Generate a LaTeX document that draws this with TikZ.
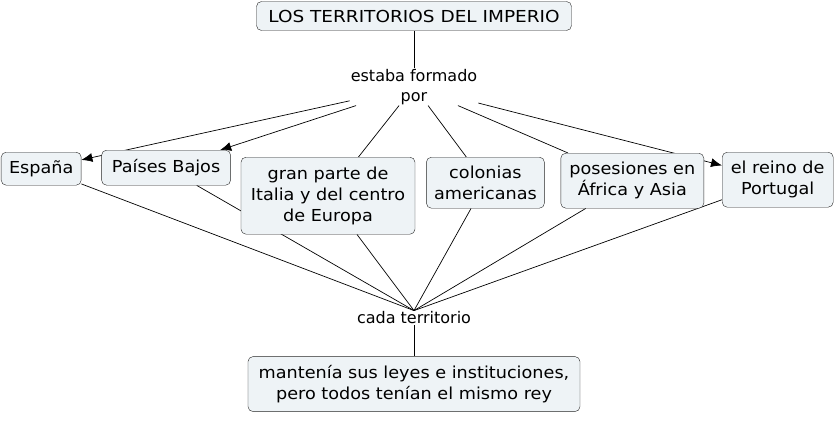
\documentclass[tikz,border=0pt]{standalone}
\usepackage{fontspec}
\setmainfont{DejaVu Sans}
\newfontfamily\letracaja{DejaVu Sans}[FakeStretch=1.07]
\newfontfamily\letratitulo{DejaVu Sans}[FakeStretch=1.12]
\usetikzlibrary{positioning,arrows.meta,backgrounds}
\definecolor{fondocaja}{RGB}{238,243,246}
\tikzset{
  caja/.style     = {draw=black!85, fill=fondocaja, rounded corners=5pt, align=center,
                     inner sep=2pt, font=\letracaja\fontsize{16.5}{21}\selectfont},
  enlace/.style   = {font=\fontsize{16}{20}\selectfont, inner sep=1pt, align=center},
  linea/.style    = {draw=black, line width=0.7pt},
  flecha/.style   = {linea, -{Latex[length=11pt,width=9pt]}}
}
\begin{document}
\begin{tikzpicture}[x=1pt, y=1pt]
    \useasboundingbox (-414,16) rectangle (420,-404);

    \node[caja, minimum width=315pt, minimum height=29pt,
        font=\letratitulo\fontsize{16.5}{21}\selectfont] (titulo)
        {LOS TERRITORIOS DEL IMPERIO};
    \node[enlace, below=37pt of titulo] (formado) {estaba formado\\ por};

    \node[caja, minimum width=80pt, minimum height=33pt, anchor=north west]
        (espana) at (-413,-136) {España};
    \node[caja, minimum width=129pt, minimum height=35pt, right=20pt of espana,
        yshift=1pt] (paises) {Países Bajos};
    \node[caja, minimum width=174pt, minimum height=77pt, right=10pt of paises,
        yshift=-28pt] (gran) {gran parte de\\ Italia y del centro\\ de Europa};
    \node[caja, minimum width=118pt, minimum height=51pt, right=11pt of gran,
        yshift=13pt] (colonias) {colonias\\ americanas};
    \node[caja, minimum width=143pt, minimum height=55pt, right=16pt of colonias,
        yshift=2pt] (posesiones) {posesiones en\\ África y Asia};
    \node[caja, minimum width=111pt, minimum height=55pt, right=18pt of posesiones,
        yshift=1pt] (reino) {el reino de\\ Portugal};

    \node[enlace, below=205pt of formado] (cada) {cada territorio};
    \node[caja, minimum width=332pt, minimum height=55pt, below=31pt of cada] (final)
        {mantenía sus leyes e instituciones,\\ pero todos tenían el mismo rey};

    \begin{scope}[on background layer]
        \draw[linea] (titulo) -- (formado);
        \draw[flecha] (formado) -- (espana);
        \draw[flecha] (formado) -- (paises);
        \draw[linea] (formado) -- (gran);
        \draw[linea] (formado) -- (colonias);
        \draw[linea] (formado) -- (posesiones);
        \draw[flecha] (formado) -- (reino);

        \draw[linea] (espana) -- (cada.north);
        \draw[linea] (paises) -- (cada.north);
        \draw[linea] (gran) -- (cada.north);
        \draw[linea] (colonias) -- (cada.north);
        \draw[linea] (posesiones) -- (cada.north);
        \draw[linea] (reino) -- (cada.north);
        \draw[linea] (cada) -- (final);
    \end{scope}
\end{tikzpicture}
\end{document}
